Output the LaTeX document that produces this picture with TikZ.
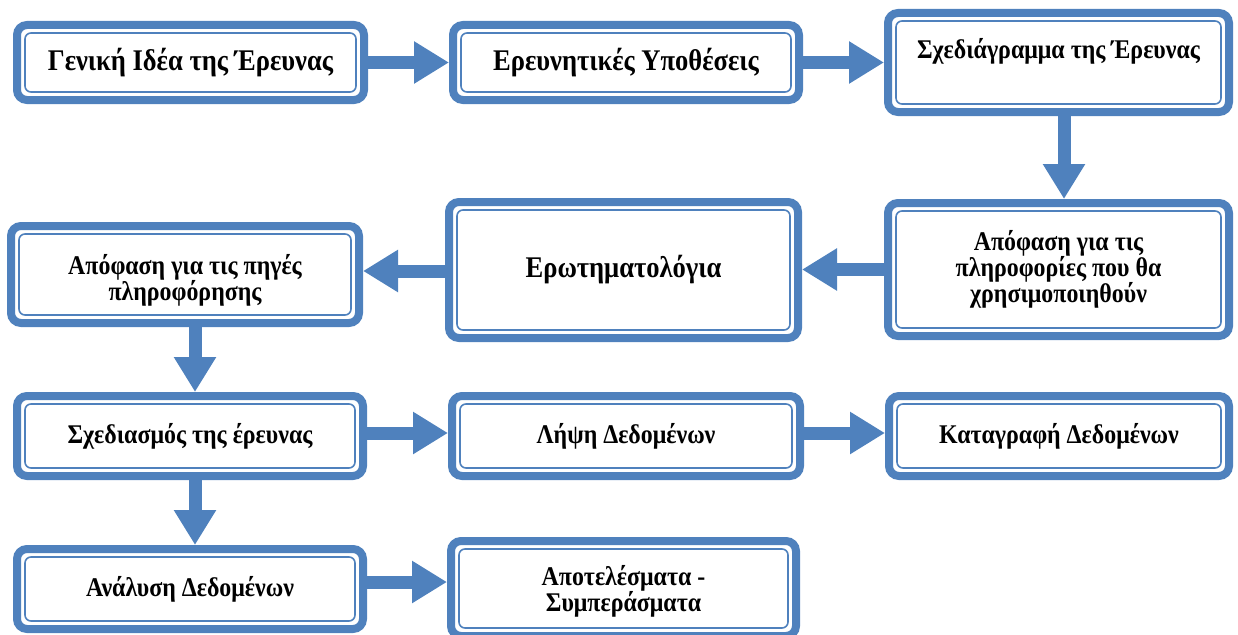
\documentclass[tikz,border=0pt]{standalone}
\usepackage{fontspec}
\setmainfont{Liberation Serif}[FakeStretch=0.885]
\usetikzlibrary{arrows.meta}

\definecolor{boxblue}{HTML}{4F81BD}

\tikzset{
  x=1pt, y=-1pt,
  % double-framed rounded box: thick outer frame and thin inner frame
  stagebox/.style={
    draw=boxblue, line width=8pt, fill=white, rounded corners=10pt,
    inner sep=0pt, align=center, font=\bfseries\fontsize{27}{26}\selectfont,
    path picture={
      \draw[boxblue, line width=1.6pt, rounded corners=6pt]
        ([shift={(8pt,-8pt)}]path picture bounding box.north west) rectangle
        ([shift={(-8pt,8pt)}]path picture bounding box.south east);
    }
  },
  big/.style={font=\bfseries\fontsize{30}{32}\selectfont},
  stagetext/.style={inner sep=0pt, align=center, font=\bfseries\fontsize{27}{26}\selectfont},
  flow/.style={
    draw=boxblue, line width=13pt,
    -{Triangle[width=40pt,length=35pt]},
    shorten >=0pt, shorten <=-3pt
  }
}

\begin{document}
\begin{tikzpicture}
\useasboundingbox (0,0) rectangle (1238,634);
\clip (0,0) rectangle (1238,634);

% first row
\node[stagebox, big, minimum width=347pt, minimum height=75pt] (B1) at (190.5,62.5)
  {Γενική Ιδέα της Έρευνας};
\node[stagebox, big, minimum width=346pt, minimum height=75pt] (B2) at (626,62.5)
  {Ερευνητικές Υποθέσεις};
\node[stagebox, minimum width=341pt, minimum height=99pt] (B3) at (1058.5,62.5) {};
\node[stagetext] (B3t) at (1058.5,51) {Σχεδιάγραμμα της Έρευνας};

% second row
\node[stagebox, minimum width=341pt, minimum height=133pt] (B4) at (1058.5,269.5)
  {Απόφαση για τις\\πληροφορίες που θα\\χρησιμοποιηθούν};
\node[stagebox, big, minimum width=349pt, minimum height=136pt] (B5) at (623.5,270)
  {Ερωτηματολόγια};
\node[stagebox, minimum width=348pt, minimum height=97pt] (B6) at (185,274.5) {};
\node[stagetext] (B6t) at (185,280.5) {Απόφαση για τις πηγές\\πληροφόρησης};

% third row
\node[stagebox, minimum width=346pt, minimum height=80pt] (B7) at (190,436)
  {Σχεδιασμός της έρευνας};
\node[stagebox, minimum width=348pt, minimum height=80pt] (B8) at (626,436)
  {Λήψη Δεδομένων};
\node[stagebox, minimum width=340pt, minimum height=80pt] (B9) at (1059,436)
  {Καταγραφή Δεδομένων};

% fourth row
\node[stagebox, minimum width=346pt, minimum height=80pt] (B10) at (190,589)
  {Ανάλυση Δεδομένων};
\node[stagebox, minimum width=345pt, minimum height=95pt] (B11) at (623.5,588.5) {};
\node[stagetext] (B11t) at (623.5,591.5) {Αποτελέσματα -\\Συμπεράσματα};

% connectors
\draw[flow] (B1.east) -- (B2.west);
\draw[flow] (B2.east) -- (B2.east -| B3.west);
\draw[flow] ([xshift=5.5pt]B3.south) -- ([xshift=5.5pt]B3.south |- B4.north);
\draw[flow] (B4.west) -- (B4.west -| B5.east);
\draw[flow] ([yshift=-1pt]B5.west) -- ([yshift=-1pt]B5.west -| B6.east);
\draw[flow] ([xshift=10pt]B6.south) -- ([xshift=10pt]B6.south |- B7.north);
\draw[flow] ([yshift=3pt]B7.east) -- ([yshift=3pt]B7.east -| B8.west);
\draw[flow] ([yshift=3pt]B8.east) -- ([yshift=3pt]B8.east -| B9.west);
\draw[flow] ([xshift=5pt]B7.south) -- ([xshift=5pt]B7.south |- B10.north);
\draw[flow] ([yshift=7pt]B10.east) -- ([yshift=7pt]B10.east -| B11.west);
\end{tikzpicture}
\end{document}
